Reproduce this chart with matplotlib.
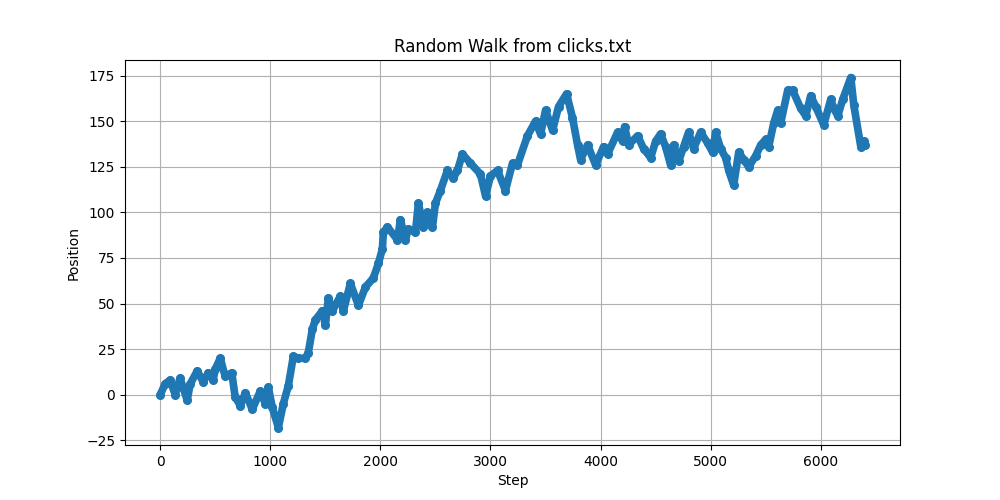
import matplotlib
matplotlib.use("Agg")
import matplotlib.pyplot as plt

# waypoints (step, position)
steps = [0, 45, 90, 136, 180, 245, 273, 336, 390, 436, 480, 500, 545, 590, 650,
         680, 727, 773, 836, 909, 955, 982, 1018, 1073, 1118, 1164, 1209, 1255,
         1318, 1345, 1382, 1409, 1473, 1500, 1527, 1564, 1636, 1664, 1727, 1800,
         1864, 1936, 1982, 2018, 2027, 2064, 2155, 2182, 2227, 2255, 2318, 2345,
         2391, 2427, 2473, 2500, 2545, 2609, 2664, 2700, 2745, 2818, 2909, 2955,
         3000, 3064, 3136, 3200, 3245, 3336, 3409, 3455, 3500, 3564, 3618, 3691,
         3745, 3791, 3818, 3882, 3955, 4027, 4064, 4155, 4200, 4218, 4255, 4336,
         4391, 4455, 4500, 4545, 4591, 4636, 4664, 4709, 4755, 4800, 4845, 4909,
         4973, 5018, 5045, 5091, 5136, 5164, 5209, 5255, 5300, 5345, 5409, 5455,
         5500, 5527, 5573, 5609, 5636, 5700, 5745, 5818, 5864, 5909, 5955, 6027,
         6091, 6118, 6155, 6200, 6273, 6300, 6364, 6391, 6400]
positions = [0, 6, 8, 0, 9, -3, 6, 13, 7, 12, 8, 14, 20, 10, 12,
             -1, -6, 1, -8, 2, -5, 4, -7, -18, -5, 5, 21, 20,
             20, 23, 36, 41, 46, 38, 53, 46, 54, 46, 61, 49,
             59, 64, 72, 80, 89, 92, 85, 96, 85, 91, 89, 105,
             92, 100, 92, 105, 112, 123, 119, 123, 132, 127, 121, 109,
             120, 123, 112, 127, 126, 142, 150, 143, 156, 145, 158, 165,
             152, 137, 129, 137, 126, 136, 132, 144, 139, 147, 137, 142,
             135, 130, 139, 143, 136, 126, 137, 128, 136, 144, 135, 144,
             138, 133, 144, 135, 130, 123, 115, 133, 129, 125, 131, 137,
             140, 136, 149, 156, 149, 167, 167, 157, 153, 164, 158, 148,
             162, 157, 153, 162, 174, 159, 136, 139, 137]

plt.figure(figsize=(10, 5), dpi=100)
plt.plot(steps, positions, color="#1f77b4", marker="o", markersize=5.5,
         linewidth=5.5, solid_joinstyle="round", solid_capstyle="round")
plt.title("Random Walk from clicks.txt")
plt.xlabel("Step")
plt.ylabel("Position")
plt.grid(True)
plt.savefig("out.png")
